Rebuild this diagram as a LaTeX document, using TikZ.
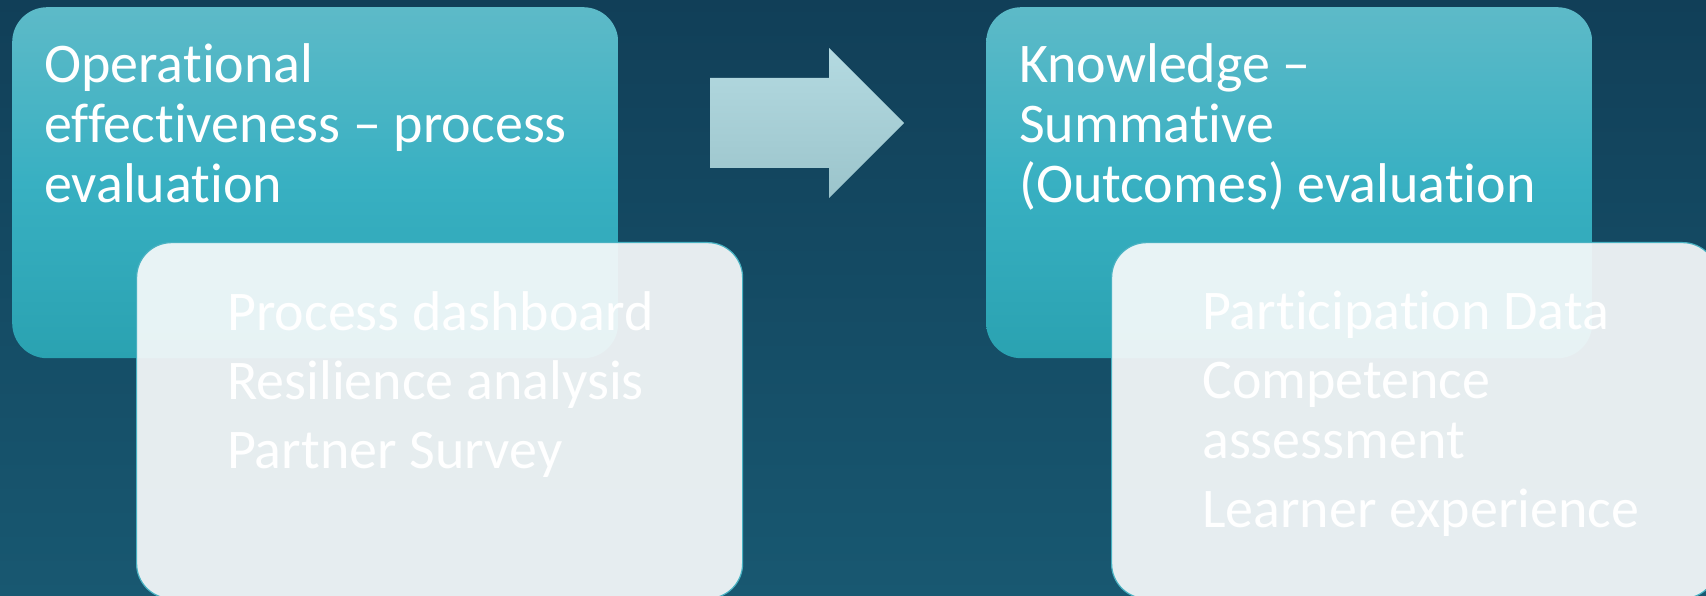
\documentclass[tikz,border=0pt]{standalone}
\usepackage{fontspec}
\setmainfont{Carlito}[Ligatures=NoCommon]
\definecolor{bgtop}{RGB}{17,63,88}
\definecolor{bgbot}{RGB}{24,88,113}
\definecolor{tealtop}{RGB}{93,186,200}
\definecolor{tealmid}{RGB}{56,176,194}
\definecolor{tealbot}{RGB}{42,162,177}
\definecolor{arrtop}{RGB}{180,218,225}
\definecolor{arrbot}{RGB}{155,196,203}
\definecolor{pale}{RGB}{246,249,250}
\definecolor{paleedge}{RGB}{72,178,194}
\begin{document}
\begin{tikzpicture}[x=1pt,y=-1pt,
  headbox/.style={rectangle, rounded corners=35pt, top color=tealtop, bottom color=tealbot, middle color=tealmid,
    minimum width=606pt, minimum height=351pt, anchor=north west, inner sep=0pt},
  listbox/.style={rectangle, rounded corners=35pt, fill=pale, fill opacity=0.93, draw=paleedge, line width=1.2pt,
    minimum width=606pt, minimum height=356pt, anchor=north west, inner sep=0pt},
  boxtext/.style={anchor=base west, align=left, text=white, inner sep=0pt,
    font=\fontsize{56}{60}\selectfont},
  arrowfill/.style={top color=arrtop, bottom color=arrbot, draw=none}
]
\useasboundingbox (0,0) rectangle (1706,596);
\shade[top color=bgtop, bottom color=bgbot] (0,0) rectangle (1706,596);

% left group
\node[headbox] (b1) at (12,7) {};
\node[listbox] (b2) at (136,242) {};
\node[boxtext] (t1) at (44,203) {Operational\\effectiveness – process\\evaluation};
\node[boxtext] (t2) at (227,468) {Process dashboard\\[9pt]Resilience analysis\\[9pt]Partner Survey};

% arrow
\shade[arrowfill] (710,78) -- (829,78) -- (829,48) -- (904,123) -- (829,198) -- (829,168) -- (710,168) -- cycle;

% right group
\node[headbox] (b3) at (986,7) {};
\node[listbox] (b4) at (1111,242) {};
\node[boxtext] (t3) at (1019,203) {Knowledge –\\Summative\\(Outcomes) evaluation};
\node[boxtext] (t4) at (1202,527) {Participation Data\\[9pt]Competence\\assessment\\[9pt]Learner experience};
\end{tikzpicture}
\end{document}
